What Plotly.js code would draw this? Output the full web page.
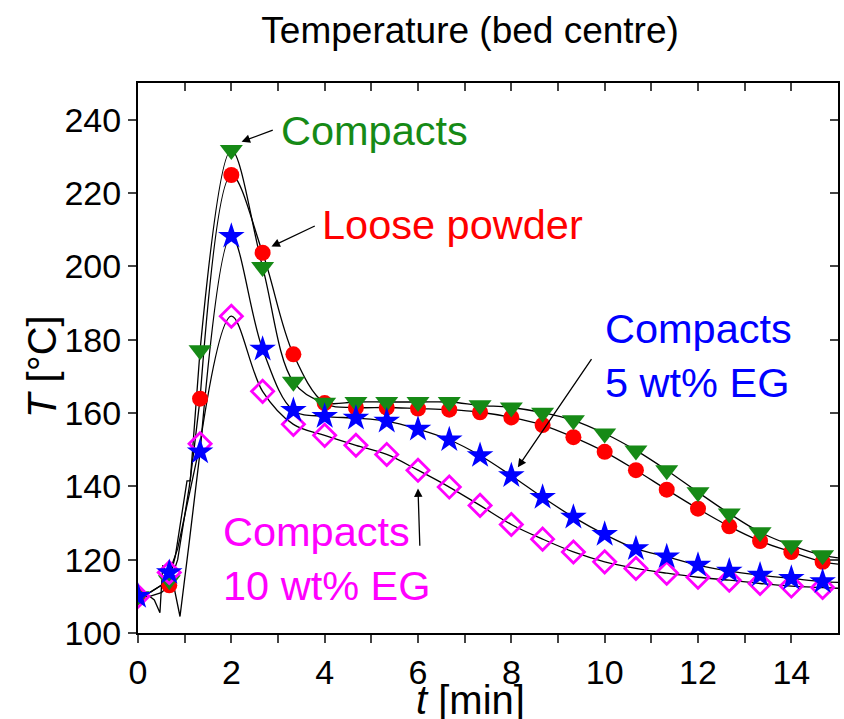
<!DOCTYPE html>
<html>
<head>
<meta charset="utf-8">
<script src="https://cdn.plot.ly/plotly-3.0.1.min.js"></script>
<style>html,body{margin:0;padding:0;background:#fff;}#chart{width:844px;height:719px;}</style>
</head>
<body>
<div id="chart"></div>
<script>
// Marker sample times [min]
const tMarkers = [0, 0.67, 1.33, 2, 2.67, 3.33, 4, 4.67, 5.33, 6, 6.67, 7.33, 8, 8.67, 9.33, 10, 10.67, 11.33, 12, 12.67, 13.33, 14, 14.67];
// Temperatures at markers [°C]
const compacts     = [110, 114.4, 177.1, 231.7, 199.8, 168.5, 162.8, 163, 163, 163, 163, 162.1, 161.5, 160.1, 158, 154.4, 149.8, 144.4, 138.4, 132.6, 127.5, 123.9, 121.2];
const loosePowder  = [110, 113, 163.9, 224.9, 203.7, 176, 162.7, 161.5, 161.5, 161.2, 160.9, 160.2, 158.8, 156.7, 153.4, 149.4, 144.4, 139.1, 133.9, 129.1, 125.1, 122.1, 119.4];
const compacts5EG  = [110, 116.5, 149.4, 208.2, 177.4, 160.7, 159.1, 158.6, 157.8, 155.6, 152.7, 148.4, 142.9, 137, 131.6, 126.9, 123, 120.8, 118.5, 116.9, 115.8, 114.9, 114];
const compacts10EG = [110, 116.5, 151.6, 186.4, 165.9, 156.9, 153.9, 151.2, 148.7, 144.4, 139.8, 134.8, 129.6, 125.6, 122.1, 119.4, 117.6, 116.3, 115.2, 114.4, 113.5, 112.8, 112.4];
// Values of each measured curve at the right edge (t = 15 min)
const tEnd = 15;
const endValues = {compacts: 120.5, loose: 118.8, eg5: 113.8, eg10: 112.2};
// Raw (noisy) start of each measured curve
const tEarlyCompacts = [0, 0.2, 0.35, 0.47, 0.53, 0.67, 0.8, 0.95, 1.05, 1.12, 1.33];
const vEarlyCompacts = [110, 110.5, 109, 105.5, 118.5, 114.4, 121, 133, 141.5, 141.5, 177.1];
const tEarlyLoose = [0, 0.25, 0.5, 0.67, 0.85, 1.0, 1.1, 1.2, 1.33];
const vEarlyLoose = [110, 110, 111, 113, 120, 132, 140, 150, 163.9];
const tEarly5EG = [0, 0.25, 0.5, 0.67, 0.78, 0.9, 1.1, 1.33];
const vEarly5EG = [110, 111, 113, 116.5, 112, 104.5, 125, 149.4];
const tEarly10EG = [0, 0.25, 0.5, 0.67, 0.85, 1.0, 1.15, 1.33];
const vEarly10EG = [110, 111, 113, 116.5, 123, 132, 141, 151.6];

const xTicks = [0,1,2,3,4,5,6,7,8,9,10,11,12,13,14];
const xTickText = ['0','','2','','4','','6','','8','','10','','12','','14'];
const yTicks = [100,120,140,160,180,200,220,240];

const GREEN = '#168a16', RED = '#ff0000', BLUE = '#0000ff', MAG = '#ff00ff';
const FONT = 'Liberation Sans, Arial, sans-serif';

function smoothLine(vals, endV) {
  return {
    x: tMarkers.slice(2).concat([tEnd]),
    y: vals.slice(2).concat([endV]),
    type: 'scatter', mode: 'lines',
    line: {color: '#000', width: 1.3, shape: 'spline', smoothing: 1},
    showlegend: false, hoverinfo: 'skip'
  };
}
function rawLine(t, v) {
  return {x: t, y: v, type: 'scatter', mode: 'lines',
    line: {color: '#000', width: 1.3}, showlegend: false, hoverinfo: 'skip'};
}
function markers(vals, sym, color, size, open) {
  return {
    x: tMarkers, y: vals, type: 'scatter', mode: 'markers', showlegend: false,
    marker: open ? {symbol: sym, size: size, color: color, line: {color: color, width: 2.8}}
                 : {symbol: sym, size: size, color: color, line: {width: 0}}
  };
}

const data = [
  rawLine(tEarlyCompacts, vEarlyCompacts),
  rawLine(tEarlyLoose, vEarlyLoose),
  rawLine(tEarly5EG, vEarly5EG),
  rawLine(tEarly10EG, vEarly10EG),
  smoothLine(compacts, endValues.compacts),
  smoothLine(loosePowder, endValues.loose),
  smoothLine(compacts5EG, endValues.eg5),
  smoothLine(compacts10EG, endValues.eg10),
  markers(loosePowder, 'circle', RED, 16, false),
  markers(compacts, 'triangle-down', GREEN, 20, false),
  markers(compacts10EG, 'diamond-open', MAG, 17, true),
  markers(compacts5EG, 'star', BLUE, 20, false)
];

function arrow(x, y, ax, ay) {
  return {x: x, y: y, ax: ax, ay: ay, xref: 'x', yref: 'y', axref: 'x', ayref: 'y',
    text: '', showarrow: true, arrowhead: 2, arrowsize: 1.3, arrowwidth: 1.3, arrowcolor: '#000', standoff: 0};
}
function label(x, y, txt, color) {
  return {x: x, y: y, xref: 'x', yref: 'y', text: txt, showarrow: false,
    xanchor: 'left', yanchor: 'middle', align: 'left',
    font: {family: FONT, size: 41.5, color: color}};
}

const layout = {
  width: 844, height: 719,
  margin: {l: 138, r: 6, t: 83, b: 86},
  paper_bgcolor: '#fff', plot_bgcolor: '#fff',
  title: {text: 'Temperature (bed centre)', font: {family: FONT, size: 37, color: '#000'},
          x: 0.557, xref: 'container', xanchor: 'center', y: 0.958, yref: 'container', yanchor: 'middle'},
  xaxis: {range: [0, 15], tickvals: xTicks, ticktext: xTickText, ticks: 'outside', ticklen: 8, tickwidth: 2,
          showline: true, linewidth: 2, linecolor: '#000', mirror: true, showgrid: false, zeroline: false,
          tickfont: {family: FONT, size: 34, color: '#000'}},
  yaxis: {range: [100, 250], tickvals: yTicks, ticks: 'outside', ticklen: 8, tickwidth: 2,
          showline: true, linewidth: 2, linecolor: '#000', mirror: true, showgrid: false, zeroline: false,
          tickfont: {family: FONT, size: 34, color: '#000'}},
  xaxis2: {range: [0, 15], overlaying: 'x', side: 'top', tickvals: xTicks, ticks: 'inside', ticklen: 8, tickwidth: 2,
           showticklabels: false, showgrid: false, zeroline: false, showline: false},
  yaxis2: {range: [100, 250], overlaying: 'y', side: 'right', tickvals: yTicks, ticks: 'inside', ticklen: 8, tickwidth: 2,
           showticklabels: false, showgrid: false, zeroline: false, showline: false},
  annotations: [
    arrow(2.22, 234, 2.92, 237.3),
    arrow(2.86, 205.4, 3.82, 211.2),
    arrow(8.14, 145.2, 9.74, 175.1),
    arrow(6.0, 139.4, 6.04, 123.4),
    label(3.02, 237, 'Compacts', GREEN),
    label(3.9, 211.3, 'Loose powder', RED),
    label(9.97, 175.6, 'Compacts<br>5 wt% EG', BLUE),
    label(1.78, 120.4, 'Compacts<br>10 wt% EG', MAG),
    {xref: 'paper', yref: 'paper', x: (42 - 138) / 700, y: (633 - 367) / 550, showarrow: false, textangle: -90,
     xanchor: 'center', yanchor: 'middle', text: '<i>T</i> [°C]', font: {family: FONT, size: 40, color: '#000'}},
    {xref: 'paper', yref: 'paper', x: (470 - 138) / 700, y: (633 - 700) / 550, showarrow: false,
     xanchor: 'center', yanchor: 'middle', text: '<i>t</i> [min]', font: {family: FONT, size: 40, color: '#000'}}
  ]
};
// invisible point to activate the secondary (tick-only) axes
data.push({x: [0], y: [100], xaxis: 'x2', yaxis: 'y2', type: 'scatter', mode: 'markers',
           marker: {opacity: 0}, showlegend: false, hoverinfo: 'skip'});

Plotly.newPlot('chart', data, layout, {displayModeBar: false, staticPlot: true});
</script>
</body>
</html>
